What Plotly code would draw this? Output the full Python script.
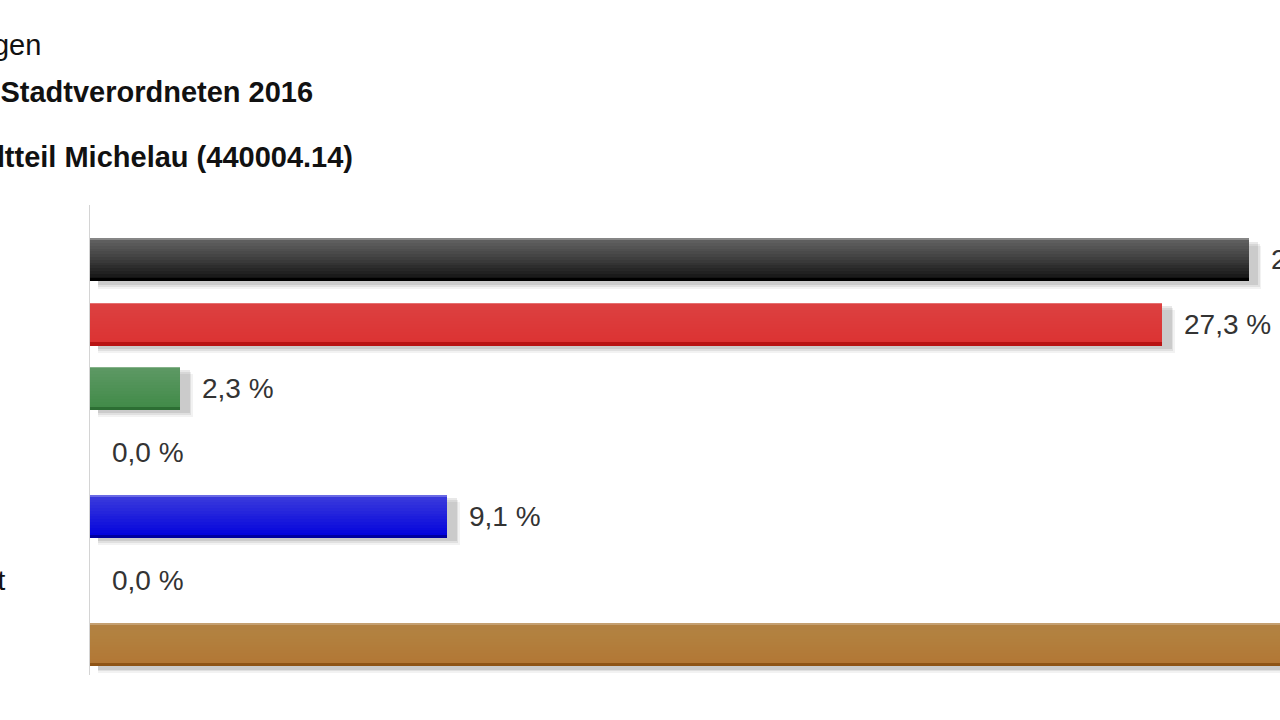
import plotly.graph_objects as go

# ---- data ----
parties = ["CDU", "SPD", "GRÜNE", "FDP", "FWG", "Bündnis Büdingen Direkt", "NPD"]
shares = [29.5, 27.3, 2.3, 0.0, 9.1, 0.0, 31.8]
share_labels = ["29,5 %", "27,3 %", "2,3 %", "0,0 %", "9,1 %", "0,0 %", "31,8 %"]
bar_colors = ["#0c0c0c", "#dc3232", "#3f8a47", "#ffd400", "#0000dc", "#888888", "#b27634"]
edge_colors = ["#000000", "#b81414", "#2c6e33", "#c9a800", "#0000a0", "#555555", "#8e5416"]
shine = [0.032, 0.008, 0.014, 0.01, 0.018, 0.01, 0.008]
title_lines = ["Stadt Büdingen", "Wahl der Stadtverordneten 2016", "Stadtteil Michelau (440004.14)"]

W, H = 1280, 720
ML, MR, MT, MB = 90, 0, 205, 45
XMAX = 30.3
BW = 0.67
FONT = "Liberation Sans, Arial, sans-serif"

ypos = list(range(len(parties)))
fig = go.Figure()

# drop shadows
for off, dx, alpha in [(0.11, 0.12, 0.05), (0.08, 0.08, 0.07), (0.05, 0.04, 0.09)]:
    fig.add_trace(go.Bar(
        y=ypos, x=[v + dx if v > 0 else 0 for v in shares], base=0.2,
        orientation="h", width=BW, offset=-BW / 2 + off,
        marker=dict(color=f"rgba(0,0,0,{alpha})", line=dict(width=0)),
        hoverinfo="skip", showlegend=False))

# main bars
fig.add_trace(go.Bar(
    y=ypos, x=shares, orientation="h", width=BW, offset=-BW / 2,
    marker=dict(color=bar_colors, line=dict(width=0)),
    showlegend=False, hovertext=parties, hoverinfo="text+x"))

# gradient highlights (top lighter), many thin layers for a smooth ramp
for k in range(14):
    frac = 0.95 - k * 0.065
    fig.add_trace(go.Bar(
        y=ypos, x=shares, orientation="h", width=BW * frac, offset=-BW / 2,
        marker=dict(color=[f"rgba(255,255,255,{a})" for a in shine], line=dict(width=0)),
        hoverinfo="skip", showlegend=False))

# thin light top line
fig.add_trace(go.Bar(
    y=ypos, x=shares, orientation="h", width=0.025, offset=-BW / 2,
    marker=dict(color="rgba(255,255,255,0.25)", line=dict(width=0)),
    hoverinfo="skip", showlegend=False))

# dark bottom edge
fig.add_trace(go.Bar(
    y=ypos, x=shares, orientation="h", width=0.05, offset=BW / 2 - 0.05,
    marker=dict(color=edge_colors, line=dict(width=0)),
    hoverinfo="skip", showlegend=False))

# value labels
for yi, v, lab in zip(ypos, shares, share_labels):
    fig.add_annotation(x=v, y=yi, xref="x", yref="y", text=lab, showarrow=False,
                       xanchor="left", yanchor="middle", xshift=20,
                       font=dict(family=FONT, size=28, color="#333333"))

# category labels (left aligned, mostly outside the visible page)
lab_x = (-305 - ML) / (W - ML - MR)
for yi, p in zip(ypos, parties):
    fig.add_annotation(x=lab_x, y=yi, xref="paper", yref="y", text=p, showarrow=False,
                       xanchor="left", yanchor="middle",
                       font=dict(family=FONT, size=28, color="#111111"))

# title lines (right ends visible)
for txt, xr, yc, bold in [(title_lines[0], 43, 45, False),
                          (title_lines[1], 315, 92, True),
                          (title_lines[2], 355, 157, True)]:
    fig.add_annotation(x=(xr - ML) / (W - ML - MR), y=1 + (MT - yc) / (H - MT - MB),
                       xref="paper", yref="paper",
                       text=f"<b>{txt}</b>" if bold else txt, showarrow=False,
                       xanchor="right", yanchor="middle",
                       font=dict(family=FONT, size=29, color="#111111"))

fig.update_layout(
    width=W, height=H,
    margin=dict(l=ML, r=MR, t=MT, b=MB, pad=0),
    paper_bgcolor="white", plot_bgcolor="white",
    barmode="overlay", bargap=0,
    xaxis=dict(range=[0, XMAX], showgrid=False, zeroline=False, showticklabels=False,
               showline=False, ticks=""),
    yaxis=dict(range=[6.47, -0.857], showgrid=False, zeroline=False, showticklabels=False,
               showline=True, linecolor="#d4d4d4", linewidth=1, ticks=""),
)

fig.write_html("out.html", config={"displayModeBar": False},
               post_script="document.body.style.margin='0';document.body.style.overflow='hidden';")
